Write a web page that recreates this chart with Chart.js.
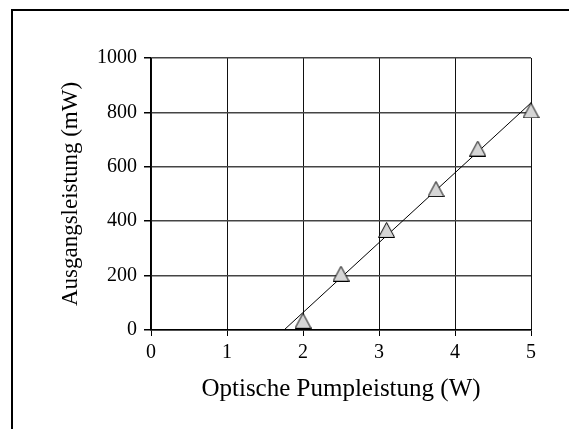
<!DOCTYPE html>
<html>
<head>
<meta charset="utf-8">
<script src="https://cdn.jsdelivr.net/npm/chart.js@4/dist/chart.umd.min.js"></script>
<style>
  html, body { margin: 0; padding: 0; background: #fff; }
  #wrap { position: relative; width: 571px; height: 429px; overflow: hidden; }
  #frame { position: absolute; left: 11px; top: 9px; width: 558px; height: 500px;
           border-left: 2px solid #000; border-top: 2px solid #000; box-sizing: border-box; }
  canvas { position: absolute; left: 0; top: 0; }
</style>
</head>
<body>
<div id="wrap">
  <div id="frame"></div>
  <canvas id="c" width="571" height="429"></canvas>
</div>
<script>
// ---- data ----
const pumpPower   = [2.0, 2.5, 3.1, 3.75, 4.3, 5.0];      // W
const outputPower = [34, 207, 368, 518, 667, 807];         // mW
const fitX = [1.75, 5.0];
const fitY = [0, 835];
const xTickValues = [0, 1, 2, 3, 4, 5];
const yTickValues = [0, 200, 400, 600, 800, 1000];
const xTitle = 'Optische Pumpleistung (W)';
const yTitle = 'Ausgangsleistung (mW)';

// triangle marker (bounding box centred on the data point)
function makeTriangle() {
  const w = 17, h = 16;
  const cv = document.createElement('canvas');
  cv.width = w; cv.height = h;
  const g = cv.getContext('2d');
  g.beginPath();
  g.moveTo(w / 2, 0.5);
  g.lineTo(w - 0.5, h - 0.5);
  g.lineTo(0.5, h - 0.5);
  g.closePath();
  g.fillStyle = '#d6d6d6';
  g.fill();
  g.lineWidth = 1;
  g.strokeStyle = '#000';
  g.stroke();
  return cv;
}
const tri = makeTriangle();

const FONT = "'Liberation Serif', 'Times New Roman', serif";

new Chart(document.getElementById('c'), {
  type: 'scatter',
  data: {
    datasets: [
      {
        label: 'Messwerte',
        data: pumpPower.map((x, i) => ({ x, y: outputPower[i] })),
        pointStyle: tri,
        pointRadius: 9,
        showLine: false,
        clip: false
      },
      {
        label: 'Fit',
        data: fitX.map((x, i) => ({ x, y: fitY[i] })),
        showLine: true,
        borderColor: '#000',
        borderWidth: 1,
        pointRadius: 0,
        fill: false,
        clip: false
      }
    ]
  },
  options: {
    responsive: false,
    animation: false,
    devicePixelRatio: 1,
    layout: { padding: { top: 58, right: 40, left: 0, bottom: 0 } },
    plugins: { legend: { display: false }, tooltip: { enabled: false } },
    scales: {
      x: {
        type: 'linear',
        min: 0, max: 5,
        afterBuildTicks: s => { s.ticks = xTickValues.map(v => ({ value: v })); },
        afterFit: s => { s.height = 99; },
        ticks: { color: '#000', font: { family: FONT, size: 20 }, padding: 5, maxRotation: 0,
                 callback: v => String(v) },
        grid: { color: '#111', lineWidth: 1, tickLength: 6, tickColor: '#000' },
        border: { display: true, color: '#000', width: 1.5 },
        title: { display: true, text: xTitle, color: '#000',
                 font: { family: FONT, size: 25 }, padding: { top: 0, bottom: 25 } }
      },
      y: {
        type: 'linear',
        min: 0, max: 1000,
        afterBuildTicks: s => { s.ticks = yTickValues.map(v => ({ value: v })); },
        afterFit: s => { s.width = 151; },
        ticks: { color: '#000', font: { family: FONT, size: 20 }, padding: 7,
                 callback: v => String(v) },
        grid: { color: '#444', lineWidth: 1.5, tickLength: 7, tickColor: '#000' },
        border: { display: true, color: '#000', width: 1.5 },
        title: { display: true, text: yTitle, color: '#000',
                 font: { family: FONT, size: 23 }, padding: { top: 57, bottom: 0 } }
      }
    }
  }
});
</script>
</body>
</html>
